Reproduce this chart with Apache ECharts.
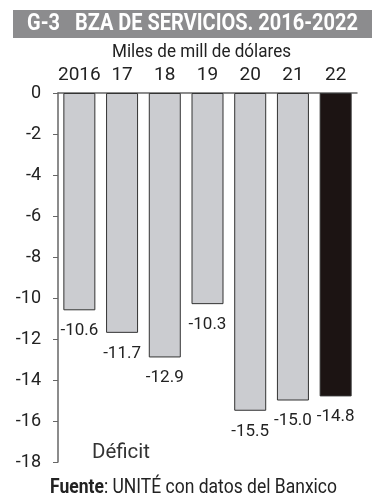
<!DOCTYPE html>
<html><head><meta charset="utf-8">
<style>html,body{margin:0;padding:0;background:#fff}#c{width:384px;height:500px}</style>
<script src="https://cdn.jsdelivr.net/npm/echarts@6/dist/echarts.min.js"></script>
</head><body><div id="c"></div>
<script>
var categories = ['2016','17','18','19','20','21','22'];
var values = [-10.6, -11.7, -12.9, -10.3, -15.5, -15.0, -14.8];
var FONT = 'Roboto,"Noto Sans",sans-serif';
var ctx = document.createElement('canvas').getContext('2d');
function fitScale(font, text, target){ ctx.font = font; return target / ctx.measureText(text).width; }
var titleText = 'G-3   BZA DE SERVICIOS. 2016-2022';
var titleFont = 'bold 24px ' + FONT;
var tS = fitScale(titleFont, titleText, 331);
var subText = 'Miles de mill de dólares';
var subFont = '19px ' + FONT;
var sS = fitScale(subFont, subText, 179);
var srcFontB = 'bold 20px ' + FONT, srcFontN = '20px ' + FONT;
ctx.font = srcFontB; var wB = ctx.measureText('Fuente').width;
ctx.font = srcFontN; var wN = ctx.measureText(': UNITÉ con datos del Banxico').width;
var fS = 287 / (wB + wN);
var defFont = '20px ' + FONT;
var dS = fitScale(defFont, 'Déficit', 58);
var chart = echarts.init(document.getElementById('c'), null, {renderer:'canvas'});
chart.setOption({
  animation:false,
  graphic:[
    {type:'rect', shape:{x:13,y:10,width:359,height:28}, style:{fill:'#8c8c8e'}},
    {type:'text', x:27, y:24, scaleX:tS, style:{text:titleText, fill:'#fff', font:titleFont, verticalAlign:'middle'}},
    {type:'text', x:112, y:52, scaleX:sS, style:{text:subText, fill:'#222', font:subFont, verticalAlign:'middle'}},
    {type:'text', x:92, y:453, scaleX:dS, style:{text:'Déficit', fill:'#333', font:defFont, verticalAlign:'middle'}},
    {type:'text', x:50, y:488, scaleX:fS, style:{rich:{b:{font:srcFontB, fill:'#222'}, n:{font:srcFontN, fill:'#222'}}, text:'{b|Fuente}{n|: UNITÉ con datos del Banxico}', verticalAlign:'middle'}}
  ],
  grid:{left:58, right:27, top:93, bottom:38},
  xAxis:{type:'category', position:'top', data:categories,
    axisLine:{lineStyle:{color:'#666', width:1.5}},
    axisTick:{inside:true, length:6, lineStyle:{color:'#666'}},
    axisLabel:{interval:0, margin:8, color:'#222', fontSize:19, fontFamily:FONT}},
  yAxis:{type:'value', min:-18, max:0, interval:2,
    axisLine:{show:true, lineStyle:{color:'#666', width:1.5}},
    axisTick:{show:true, length:5, lineStyle:{color:'#666'}},
    splitLine:{show:false},
    axisLabel:{margin:17, color:'#222', fontSize:18, fontFamily:FONT}},
  series:[{type:'bar', barWidth:32,
    data: values.map(function(v,i){return {value:v, itemStyle:{color: i===values.length-1 ? '#1c1413' : '#cbccd0', borderColor:'#333', borderWidth:1}};}),
    label:{show:true, position:'bottom', distance:12, color:'#222', fontSize:17, fontFamily:FONT,
      formatter:function(p){return p.value.toFixed(1);}}
  }]
});
</script></body></html>
